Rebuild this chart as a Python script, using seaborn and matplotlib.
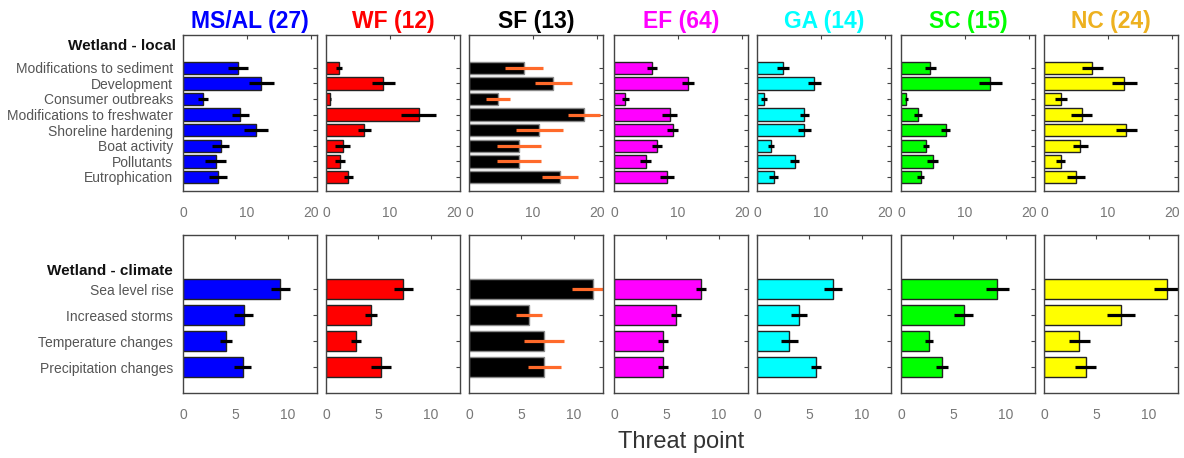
import numpy as np
import matplotlib
matplotlib.use('Agg')
import matplotlib.pyplot as plt
import seaborn as sns

# Data

regions = ['MS/AL (27)', 'WF (12)', 'SF (13)', 'EF (64)', 'GA (14)', 'SC (15)', 'NC (24)']
bar_colors = ['#0000FF', '#FF0000', '#000000', '#FF00FF', '#00FFFF', '#00FF00', '#FFFF00']
title_colors = ['#0000FF', '#FF0000', '#000000', '#FF00FF', '#00FFFF', '#00FF00', '#EDB120']

local_threats = ['Modifications to sediment', 'Development', 'Consumer outbreaks',
                 'Modifications to freshwater', 'Shoreline hardening', 'Boat activity',
                 'Pollutants', 'Eutrophication']
climate_threats = ['Sea level rise', 'Increased storms', 'Temperature changes',
                   'Precipitation changes']

local_mean = [
    [8.6, 12.3, 3.1, 9.0, 11.4, 5.9, 5.1, 5.5],
    [2.05, 9.0, 0.7, 14.5, 6.0, 2.6, 2.2, 3.5],
    [8.6, 13.2, 4.5, 18.0, 11.0, 7.8, 7.8, 14.3],
    [5.9, 11.6, 1.8, 8.7, 9.2, 6.8, 5.0, 8.3],
    [4.1, 9.0, 1.1, 7.4, 7.4, 2.2, 5.9, 2.6],
    [4.6, 14.0, 0.85, 2.7, 7.0, 3.9, 5.0, 3.1],
    [7.6, 12.6, 2.6, 5.9, 12.9, 5.7, 2.6, 5.0],
]
local_err = [
    [1.6, 2.0, 0.8, 1.3, 1.9, 1.35, 1.6, 1.4],
    [0.5, 1.8, 0.15, 2.8, 1.0, 1.15, 0.8, 0.7],
    [3.0, 2.9, 1.9, 2.5, 3.7, 3.45, 3.45, 2.8],
    [0.8, 1.0, 0.5, 1.25, 0.9, 0.8, 0.85, 1.15],
    [0.95, 1.0, 0.45, 0.7, 1.05, 0.45, 0.75, 0.75],
    [0.9, 1.75, 0.2, 0.6, 0.7, 0.5, 0.85, 0.55],
    [1.6, 1.9, 0.95, 1.6, 1.6, 1.15, 0.7, 1.45],
]
climate_mean = [
    [9.3, 5.8, 4.1, 5.7],
    [7.4, 4.3, 2.85, 5.25],
    [11.8, 5.7, 7.2, 7.2],
    [8.3, 5.9, 4.7, 4.7],
    [7.25, 4.0, 3.1, 5.65],
    [9.2, 6.0, 2.7, 3.9],
    [11.75, 7.35, 3.35, 4.0],
]
climate_err = [
    [0.9, 0.9, 0.55, 0.8],
    [0.95, 0.55, 0.45, 0.95],
    [1.95, 1.25, 1.9, 1.6],
    [0.5, 0.5, 0.45, 0.45],
    [0.85, 0.75, 0.85, 0.45],
    [1.1, 0.9, 0.4, 0.55],
    [1.25, 1.3, 1.0, 1.0],
]

sns.set_style('white')
plt.rcParams['font.family'] = ['Liberation Sans', 'DejaVu Sans']

W, H = 1184, 458
fig = plt.figure(figsize=(W / 100, H / 100), dpi=100)

lefts = [183, 326, 469, 614, 757, 901, 1044]
pw = 134


def style_axis(ax, show_labels, xticks):
    for s in ax.spines.values():
        s.set_color('#444444')
        s.set_linewidth(1.0)
    ax.tick_params(direction='in', top=True, right=True, length=3, width=0.8,
                   color='#444444', labelsize=10)
    ax.tick_params(axis='x', pad=11, labelcolor='#777777')
    ax.tick_params(axis='y', pad=7, labelcolor='#555555')
    ax.set_xticks(xticks)
    ax.set_xticklabels([str(t) for t in xticks])
    if not show_labels:
        ax.set_yticklabels([])
    ax.set_xlabel('')
    ax.set_ylabel('')


for i in range(len(regions)):
    err_col = '#FF6A2A' if i == 2 else 'black'
    edge_col = '#8a8a8a' if i == 2 else '#222222'

    # top row: local threats
    ax = fig.add_axes([lefts[i] / W, 1 - 191 / H, pw / W, 156 / H])
    sns.barplot(x=local_mean[i], y=local_threats, orient='h', color=bar_colors[i],
                saturation=1, edgecolor=edge_col, linewidth=1, width=0.8, ax=ax)
    ax.errorbar(local_mean[i], np.arange(len(local_threats)), xerr=local_err[i],
                fmt='none', ecolor=err_col, elinewidth=2.3, capsize=0)
    ax.set_xlim(0, 21)
    ax.set_ylim(7.9, -2.1)
    style_axis(ax, i == 0, [0, 10, 20])
    if i == 0:
        ax.text(-0.052, -1.4, 'Wetland - local', transform=ax.get_yaxis_transform(),
                ha='right', va='center', fontsize=11, fontweight='bold', color='#111111')
    fig.text((lefts[i] + pw / 2) / W, 1 - 28 / H, regions[i], ha='center', va='baseline',
             fontsize=16.5, fontweight='bold', color=title_colors[i])

    # bottom row: climate threats
    ax = fig.add_axes([lefts[i] / W, 1 - 393 / H, pw / W, 158 / H])
    sns.barplot(x=climate_mean[i], y=climate_threats, orient='h', color=bar_colors[i],
                saturation=1, edgecolor=edge_col, linewidth=1, width=0.8, ax=ax)
    ax.errorbar(climate_mean[i], np.arange(len(climate_threats)), xerr=climate_err[i],
                fmt='none', ecolor=err_col, elinewidth=2.3, capsize=0)
    ax.set_xlim(0, 12.8)
    ax.set_ylim(4.0, -2.08)
    style_axis(ax, i == 0, [0, 5, 10])
    if i == 0:
        ax.text(-0.075, -0.7, 'Wetland - climate', transform=ax.get_yaxis_transform(),
                ha='right', va='center', fontsize=11, fontweight='bold', color='#111111')

fig.text(681 / W, 1 - 442 / H, 'Threat point', ha='center', va='center',
         fontsize=17, color='#333333')

fig.savefig('out.png', dpi=100, facecolor='white')
